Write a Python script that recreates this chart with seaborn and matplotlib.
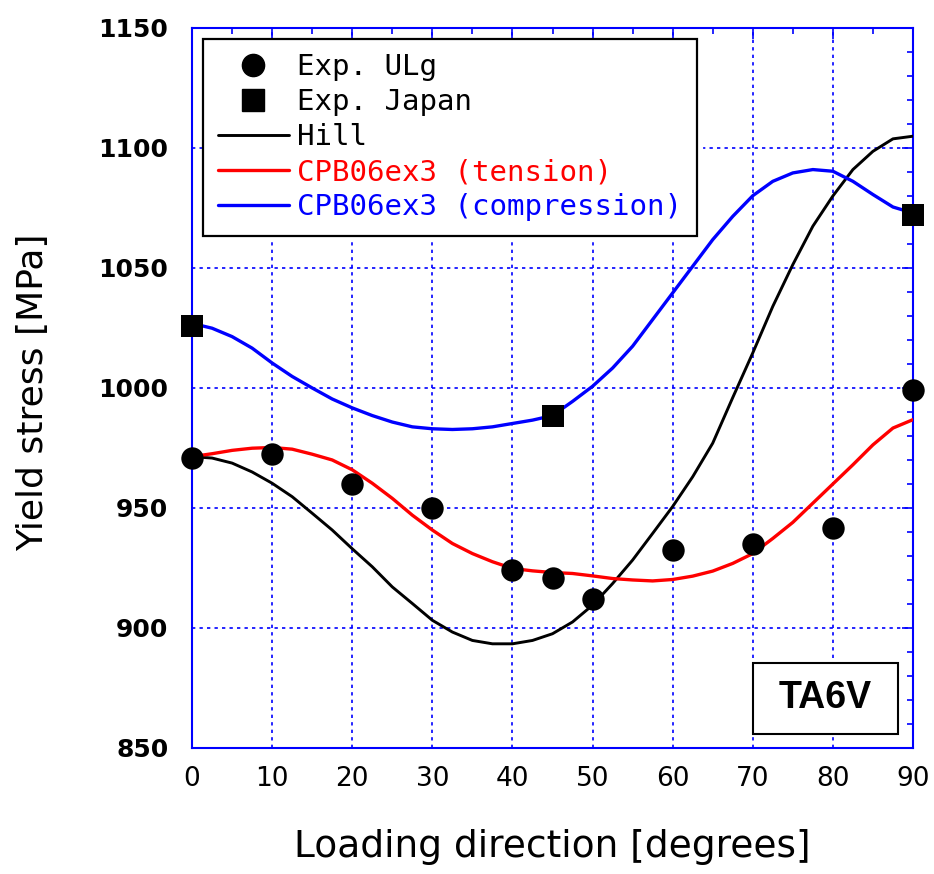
import numpy as np
import pandas as pd
import seaborn as sns
import matplotlib
matplotlib.use("Agg")
import matplotlib.pyplot as plt
from matplotlib.patches import Rectangle
from matplotlib.lines import Line2D
from matplotlib.ticker import MultipleLocator

sns.set_theme(style="white")
plt.rcParams["font.family"] = ["DejaVu Sans"]

# Experimental yield stresses [MPa]
angles_ulg = [0, 10, 20, 30, 40, 45, 50, 60, 70, 80, 90]
stress_ulg = [971, 972.5, 960, 950, 924, 921, 912, 932.5, 935, 941.5, 999]

angles_japan = [0, 45, 90]
stress_japan = [1026, 988.5, 1072]

# Model predictions, sampled every 2.5 degrees
angles_model = [0, 2.5, 5, 7.5, 10, 12.5, 15, 17.5, 20, 22.5, 25, 27.5, 30,
                32.5, 35, 37.5, 40, 42.5, 45, 47.5, 50, 52.5, 55, 57.5, 60,
                62.5, 65, 67.5, 70, 72.5, 75, 77.5, 80, 82.5, 85, 87.5, 90]
stress_hill = [971.4, 970.8, 968.7, 965.0, 960.3, 954.7, 947.8, 940.8, 933.0,
               925.5, 917.1, 910.2, 903.2, 898.3, 894.8, 893.4, 893.4, 894.8,
               897.6, 902.5, 909.5, 918.5, 928.3, 939.4, 950.6, 963.0, 977.0,
               996.0, 1014.6, 1034.0, 1051.4, 1067.4, 1080.0, 1091.0, 1098.6,
               1103.8, 1104.9]
stress_tension = [971.4, 972.6, 974.0, 974.9, 975.2, 974.5, 972.4, 970.0,
                  965.9, 960.3, 954.0, 947.0, 940.8, 935.2, 931.0, 927.6,
                  924.8, 923.8, 923.1, 922.7, 921.7, 920.6, 920.0, 919.6,
                  920.2, 921.6, 923.7, 926.9, 931.0, 937.3, 944.0, 952.0,
                  960.0, 968.0, 976.3, 983.3, 986.8]
stress_compression = [1026.9, 1024.9, 1021.4, 1016.6, 1010.4, 1004.8, 1000.0,
                      995.4, 991.7, 988.5, 985.8, 983.8, 983.0, 982.7, 983.0,
                      983.8, 985.2, 986.6, 988.5, 994.4, 1000.7, 1008.3,
                      1017.4, 1028.5, 1039.6, 1050.7, 1061.8, 1071.5, 1080.1,
                      1086.1, 1089.6, 1091.0, 1090.3, 1086.1, 1080.6, 1075.4,
                      1072.9]

models = pd.DataFrame({
    "angle": angles_model,
    "Hill": stress_hill,
    "tension": stress_tension,
    "compression": stress_compression,
})

legend_labels = ["Exp. ULg", "Exp. Japan", "Hill",
                 "CPB06ex3 (tension)", "CPB06ex3 (compression)"]
legend_colors = ["black", "black", "black", "#ff0000", "#0000ff"]

BLUE = "#0000ff"

fig = plt.figure(figsize=(9.34, 8.74), dpi=100)
ax = fig.add_axes([0.2056, 0.1442, 0.7719, 0.8238])

sns.lineplot(data=models, x="angle", y="Hill", color="black", lw=2.1,
             ax=ax, zorder=3)
sns.lineplot(data=models, x="angle", y="tension", color="#ff0000", lw=2.4,
             ax=ax, zorder=3)
sns.lineplot(data=models, x="angle", y="compression", color=BLUE, lw=2.4,
             ax=ax, zorder=3)

sns.scatterplot(x=angles_ulg, y=stress_ulg, marker="o", s=260, color="black",
                edgecolor="black", linewidth=0, ax=ax, zorder=4, clip_on=False)
sns.scatterplot(x=angles_japan, y=stress_japan, marker="s", s=240,
                color="black", edgecolor="black", linewidth=0, ax=ax,
                zorder=4, clip_on=False)

ax.set_xlim(0, 90)
ax.set_ylim(850, 1150)
ax.xaxis.set_major_locator(MultipleLocator(10))
ax.xaxis.set_minor_locator(MultipleLocator(5))
ax.yaxis.set_major_locator(MultipleLocator(50))
ax.yaxis.set_minor_locator(MultipleLocator(10))

ax.set_axisbelow(True)
ax.grid(True, which="major", color=BLUE, ls=(0, (2, 2.5)), lw=1.2)

for sp in ax.spines.values():
    sp.set_color(BLUE)
    sp.set_linewidth(1.5)

ax.tick_params(which="both", direction="in", top=True, right=True,
               color=BLUE, width=1.2)
ax.tick_params(which="major", length=8)
ax.tick_params(which="minor", length=4)
ax.tick_params(axis="x", which="major", labelsize=19, pad=13,
               labelcolor="black")
ax.tick_params(axis="y", which="major", labelsize=18, pad=17,
               labelcolor="black")
for lab in ax.get_yticklabels():
    lab.set_fontweight("bold")

ax.set_xlabel("Loading direction [degrees]", fontsize=27, color="black")
ax.set_ylabel("Yield stress [MPa]", fontsize=26, color="black")
ax.xaxis.set_label_coords(0.5, -0.112)
ax.yaxis.set_label_coords(-0.197, 0.494)

handles = [
    Line2D([], [], marker="o", ls="none", color="black", markersize=16),
    Line2D([], [], marker="s", ls="none", color="black", markersize=15.5),
    Line2D([], [], color="black", lw=2.1),
    Line2D([], [], color="#ff0000", lw=2.4),
    Line2D([], [], color=BLUE, lw=2.4),
]
leg = ax.legend(handles, legend_labels, loc="upper left",
                bbox_to_anchor=(0.0153, 0.985), borderaxespad=0,
                prop={"family": "DejaVu Sans Mono", "size": 21},
                handlelength=2.45, handletextpad=0.28, labelspacing=0.24,
                borderpad=0.5, fancybox=False, framealpha=1,
                shadow={"ox": 4, "oy": -4, "shade": 0, "alpha": 1})
leg.get_frame().set_edgecolor("black")
leg.get_frame().set_linewidth(1.6)
leg.set_zorder(6)
for txt, c in zip(leg.get_texts(), legend_colors):
    txt.set_color(c)

# Material label box
ax.add_patch(Rectangle((0.778, 0.0194), 0.201, 0.0986, transform=ax.transAxes,
                       facecolor="white", edgecolor="black", lw=1.5,
                       zorder=5))
ax.text(0.8786, 0.0688, "TA6V", transform=ax.transAxes, ha="center",
        va="center", fontsize=27, fontweight="bold",
        family="Liberation Sans", color="black", zorder=6)

fig.savefig("out.png", dpi=100)
